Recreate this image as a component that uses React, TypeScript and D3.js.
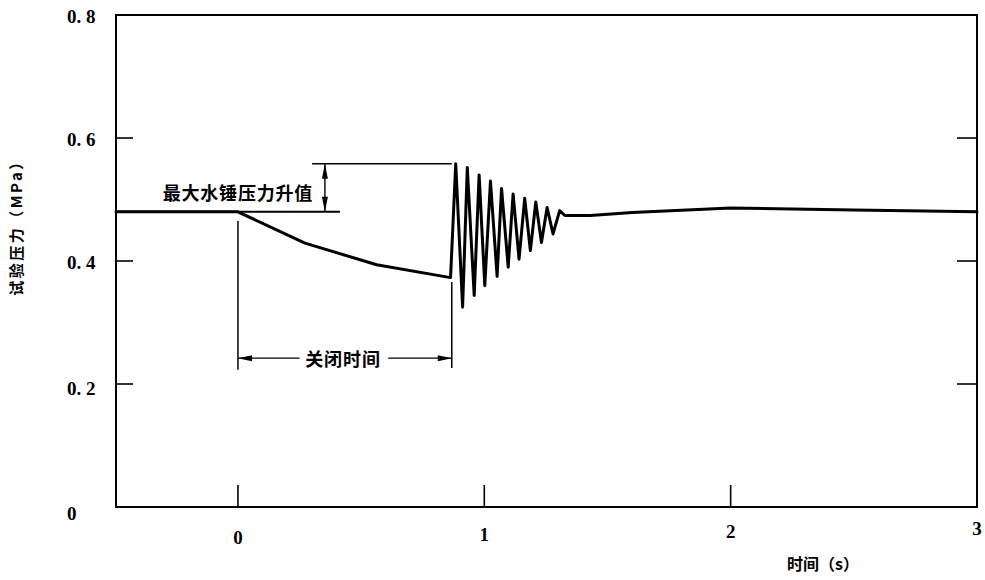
import React from "react";
import * as d3 from "d3";

// ---- data ----
const timeS: number[] = [
  -0.495, 0, 0.272, 0.563, 0.863,
  0.884, 0.912, 0.931, 0.959, 0.979, 1.002, 1.025, 1.052, 1.07, 1.097,
  1.117, 1.141, 1.164, 1.187, 1.209, 1.232, 1.255, 1.279, 1.306, 1.327,
  1.43, 1.6, 2.0, 2.5, 3.0,
];
const pressureMPa: number[] = [
  0.48, 0.48, 0.429, 0.394, 0.373,
  0.558, 0.325, 0.552, 0.344, 0.54, 0.36, 0.53, 0.375, 0.518, 0.39,
  0.509, 0.403, 0.502, 0.417, 0.496, 0.43, 0.487, 0.444, 0.482, 0.474,
  0.474, 0.479, 0.486, 0.483, 0.48,
];
const yTicks: number[] = [0, 0.2, 0.4, 0.6, 0.8];
const yTickLabels: string[] = ["0", "0. 2", "0. 4", "0. 6", "0. 8"];
const yInnerTicks: number[] = [0.2, 0.4, 0.6];
const xTicks: number[] = [0, 1, 2, 3];
const xTickLabels: string[] = ["0", "1", "2", "3"];
const xInnerTicks: number[] = [0, 1, 2];

// annotation values (data units)
const baselineP = 0.48;
const peakP = 0.558;
const closeStartT = 0;
const closeEndT = 0.868;
const baselineRefEndT = 0.414;
const peakRefStartT = 0.301;
const riseArrowT = 0.353;

const yLabel = "试验压力（MPa）";
const xLabel = "时间（s）";
const riseLabel = "最大水锤压力升值";
const closeLabel = "关闭时间";

export default function App() {
  const left = 116, right = 977, top = 15, bottom = 507;
  const x = d3.scaleLinear().domain([-0.495, 3]).range([left, right]);
  const y = d3.scaleLinear().domain([0, 0.8]).range([bottom, top]);

  const pts: [number, number][] = timeS.map((t, i) => [t, pressureMPa[i]]);
  const line = d3
    .line<[number, number]>()
    .x((d) => x(d[0]))
    .y((d) => y(d[1]));

  const numFont = "'Liberation Serif', serif";
  const cjkFont = "'Noto Sans CJK SC', sans-serif";

  const xs = x(closeStartT);
  const xe = x(closeEndT);
  const arrowY = y(0.242);
  const xa = x(riseArrowT);
  const yPeak = y(peakP);
  const yBase = y(baselineP);

  return (
    <svg
      width={985}
      height={580}
      style={{ position: "absolute", left: 0, top: 0, background: "#fff" }}
    >
      <rect x={0} y={0} width={985} height={580} fill="#fff" />
      {/* frame */}
      <rect
        x={left}
        y={top}
        width={right - left}
        height={bottom - top}
        fill="none"
        stroke="#000"
        strokeWidth={2}
      />
      {/* inner ticks left & right */}
      {yInnerTicks.map((v) => (
        <g key={"yt" + v}>
          <line x1={left} x2={left + 17} y1={y(v)} y2={y(v)} stroke="#000" strokeWidth={1.6} />
          <line x1={right - 20} x2={right} y1={y(v)} y2={y(v)} stroke="#000" strokeWidth={1.6} />
        </g>
      ))}
      {xInnerTicks.map((v) => (
        <line key={"xt" + v} x1={x(v)} x2={x(v)} y1={bottom} y2={bottom - 22} stroke="#000" strokeWidth={1.6} />
      ))}
      {/* tick labels */}
      {yTicks.map((v, i) => (
        <text
          key={"yl" + v}
          x={67}
          y={y(v) + (v === 0 ? 6 : v === 0.2 ? 4 : 1)}
          dominantBaseline="central"
          fontFamily={numFont}
          fontWeight={700}
          fontSize={19}
        >
          {yTickLabels[i]}
        </text>
      ))}
      {xTicks.map((v, i) => (
        <text
          key={"xl" + v}
          x={x(v)}
          y={537 - i * 2.7}
          textAnchor="middle"
          dominantBaseline="central"
          fontFamily={numFont}
          fontWeight={700}
          fontSize={19}
        >
          {xTickLabels[i]}
        </text>
      ))}
      {/* axis titles */}
      <text
        transform={`translate(15,224) rotate(-90)`}
        textAnchor="middle"
        dominantBaseline="central"
        fontFamily={cjkFont}
        fontWeight={700}
        fontSize={15}
        letterSpacing={2.5}
      >
        {yLabel}
      </text>
      <text
        x={787}
        y={563}
        dominantBaseline="central"
        fontFamily={cjkFont}
        fontWeight={700}
        fontSize={16}
      >
        {xLabel}
      </text>

      {/* annotations */}
      <line x1={x(-0.495)} x2={x(baselineRefEndT)} y1={yBase} y2={yBase} stroke="#000" strokeWidth={2} />
      <line x1={x(peakRefStartT)} x2={xe} y1={yPeak} y2={yPeak} stroke="#000" strokeWidth={1.5} />
      <line x1={xa} x2={xa} y1={yPeak} y2={yBase} stroke="#000" strokeWidth={1.4} />
      <path d={`M${xa},${yPeak} L${xa - 3},${yPeak + 15} L${xa + 3},${yPeak + 15} Z`} fill="#000" />
      <path d={`M${xa},${yBase} L${xa - 3},${yBase - 15} L${xa + 3},${yBase - 15} Z`} fill="#000" />
      <text
        x={x(peakRefStartT) + 1}
        y={y(0.512)}
        textAnchor="end"
        dominantBaseline="central"
        fontFamily={cjkFont}
        fontWeight={700}
        fontSize={18}
        letterSpacing={0.8}
      >
        {riseLabel}
      </text>
      {/* closing-time dimension */}
      <line x1={xs} x2={xs} y1={y(0.465)} y2={y(0.223)} stroke="#000" strokeWidth={1.5} />
      <line x1={xe} x2={xe} y1={y(0.366)} y2={y(0.226)} stroke="#000" strokeWidth={1.5} />
      <line x1={xs} x2={x(0.25)} y1={arrowY} y2={arrowY} stroke="#000" strokeWidth={1.4} />
      <line x1={x(0.61)} x2={xe} y1={arrowY} y2={arrowY} stroke="#000" strokeWidth={1.4} />
      <path d={`M${xs},${arrowY} L${xs + 14},${arrowY - 3} L${xs + 14},${arrowY + 3} Z`} fill="#000" />
      <path d={`M${xe},${arrowY} L${xe - 14},${arrowY - 3} L${xe - 14},${arrowY + 3} Z`} fill="#000" />
      <text
        x={x(0.427)}
        y={arrowY}
        textAnchor="middle"
        dominantBaseline="central"
        fontFamily={cjkFont}
        fontWeight={700}
        fontSize={18}
        letterSpacing={1}
      >
        {closeLabel}
      </text>

      {/* data line */}
      <path d={line(pts) || ""} fill="none" stroke="#000" strokeWidth={3} strokeLinejoin="round" strokeLinecap="round" />
    </svg>
  );
}
